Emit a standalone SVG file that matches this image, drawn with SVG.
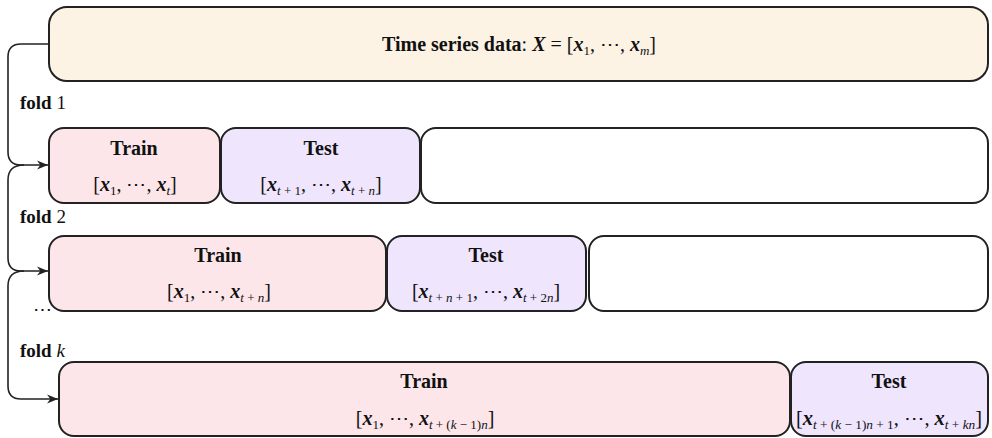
<svg xmlns="http://www.w3.org/2000/svg" width="992" height="438" viewBox="0 0 992 438">
  <defs>
    <style>
      .box { stroke: #222; stroke-width: 2; }
      .data { fill: #fdf3e4; }
      .train { fill: #fde6e9; }
      .test { fill: #efe5fd; }
      .rest { fill: #ffffff; }
      .conn { fill: none; stroke: #222; stroke-width: 1.6; }
      text { font-family: "Liberation Serif", "DejaVu Serif", serif; fill: #111; }
      .hd { font-size: 20px; font-weight: bold; }
      .m { font-size: 20px; }
      .bx { font-weight: bold; font-style: italic; }
      .si { font-size: 13px; font-style: italic; }
      .sn { font-size: 13px; }
      .fold { font-size: 19px; }
    </style>
    <marker id="arrow" viewBox="0 0 10 10" refX="10" refY="5" markerWidth="11" markerHeight="11" markerUnits="userSpaceOnUse" orient="auto">
      <path d="M0,1 L10,5 L0,9 L3,5 Z" fill="#222"/>
    </marker>
  </defs>

  <!-- connectors from the data block to each fold -->
  <g id="connectors">
    <path class="conn" d="M49,44 H21 Q8,44 8,57 V152 Q8,165 21,165 H48" marker-end="url(#arrow)"/>
    <path class="conn" d="M24,165 Q8,165 8,180 V258 Q8,271 21,271 H48" marker-end="url(#arrow)"/>
    <path class="conn" d="M24,271 Q8,271 8,286 V386 Q8,399 21,399 H58" marker-end="url(#arrow)"/>
  </g>

  <!-- full series -->
  <g id="data">
    <rect class="box data" x="49" y="7" width="939" height="74" rx="18"/>
    <text class="m" x="519" y="51" text-anchor="middle"><tspan font-weight="bold">Time series data</tspan>: <tspan class="bx">X</tspan> = [<tspan class="bx">x</tspan><tspan class="sn" dy="4">1</tspan><tspan dy="-4">, ⋯, </tspan><tspan class="bx">x</tspan><tspan class="si" dy="4">m</tspan><tspan dy="-4">]</tspan></text>
  </g>

  <!-- fold labels -->
  <g id="labels">
    <text class="fold" x="20" y="109"><tspan font-weight="bold">fold</tspan> 1</text>
    <text class="fold" x="20" y="223"><tspan font-weight="bold">fold</tspan> 2</text>
    <text class="fold" x="33" y="316">⋯</text>
    <text class="fold" x="20" y="357"><tspan font-weight="bold">fold</tspan> <tspan font-style="italic">k</tspan></text>
  </g>

  <!-- fold 1 -->
  <g id="fold1-train">
    <rect class="box train" x="49" y="128" width="171" height="75" rx="15"/>
    <text class="hd" x="134" y="155" text-anchor="middle">Train</text>
    <text class="m" x="135" y="191" text-anchor="middle">[<tspan class="bx">x</tspan><tspan class="sn" dy="4">1</tspan><tspan dy="-4">, ⋯, </tspan><tspan class="bx">x</tspan><tspan class="si" dy="4">t</tspan><tspan dy="-4">]</tspan></text>
  </g>
  <g id="fold1-test">
    <rect class="box test" x="221" y="128" width="199" height="75" rx="15"/>
    <text class="hd" x="321" y="155" text-anchor="middle">Test</text>
    <text class="m" x="321" y="191" text-anchor="middle">[<tspan class="bx">x</tspan><tspan class="si" dy="4">t</tspan><tspan class="sn"> + 1</tspan><tspan dy="-4">, ⋯, </tspan><tspan class="bx">x</tspan><tspan class="si" dy="4">t</tspan><tspan class="sn"> + </tspan><tspan class="si">n</tspan><tspan dy="-4">]</tspan></text>
  </g>
  <g id="fold1-rest">
    <rect class="box rest" x="421" y="128" width="567" height="75" rx="15"/>
  </g>

  <!-- fold 2 -->
  <g id="fold2-train">
    <rect class="box train" x="49" y="236" width="337" height="75" rx="15"/>
    <text class="hd" x="218" y="262" text-anchor="middle">Train</text>
    <text class="m" x="219" y="298" text-anchor="middle">[<tspan class="bx">x</tspan><tspan class="sn" dy="4">1</tspan><tspan dy="-4">, ⋯, </tspan><tspan class="bx">x</tspan><tspan class="si" dy="4">t</tspan><tspan class="sn"> + </tspan><tspan class="si">n</tspan><tspan dy="-4">]</tspan></text>
  </g>
  <g id="fold2-test">
    <rect class="box test" x="387" y="236" width="199" height="75" rx="15"/>
    <text class="hd" x="486" y="262" text-anchor="middle">Test</text>
    <text class="m" x="486" y="298" text-anchor="middle">[<tspan class="bx">x</tspan><tspan class="si" dy="4">t</tspan><tspan class="sn"> + </tspan><tspan class="si">n</tspan><tspan class="sn"> + 1</tspan><tspan dy="-4">, ⋯, </tspan><tspan class="bx">x</tspan><tspan class="si" dy="4">t</tspan><tspan class="sn"> + 2</tspan><tspan class="si">n</tspan><tspan dy="-4">]</tspan></text>
  </g>
  <g id="fold2-rest">
    <rect class="box rest" x="589" y="236" width="399" height="75" rx="15"/>
  </g>

  <!-- fold k -->
  <g id="foldk-train">
    <rect class="box train" x="59" y="362" width="731" height="74" rx="15"/>
    <text class="hd" x="424" y="388" text-anchor="middle">Train</text>
    <text class="m" x="425" y="425" text-anchor="middle">[<tspan class="bx">x</tspan><tspan class="sn" dy="4">1</tspan><tspan dy="-4">, ⋯, </tspan><tspan class="bx">x</tspan><tspan class="si" dy="4">t</tspan><tspan class="sn"> + (</tspan><tspan class="si">k</tspan><tspan class="sn"> − 1)</tspan><tspan class="si">n</tspan><tspan dy="-4">]</tspan></text>
  </g>
  <g id="foldk-test">
    <rect class="box test" x="791" y="362" width="197" height="74" rx="15"/>
    <text class="hd" x="889" y="388" text-anchor="middle">Test</text>
    <text class="m" x="889" y="425" text-anchor="middle" textLength="186" lengthAdjust="spacingAndGlyphs">[<tspan class="bx">x</tspan><tspan class="si" dy="4">t</tspan><tspan class="sn"> + (</tspan><tspan class="si">k</tspan><tspan class="sn"> − 1)</tspan><tspan class="si">n</tspan><tspan class="sn"> + 1</tspan><tspan dy="-4">, ⋯, </tspan><tspan class="bx">x</tspan><tspan class="si" dy="4">t</tspan><tspan class="sn"> + </tspan><tspan class="si">kn</tspan><tspan dy="-4">]</tspan></text>
  </g>
</svg>
